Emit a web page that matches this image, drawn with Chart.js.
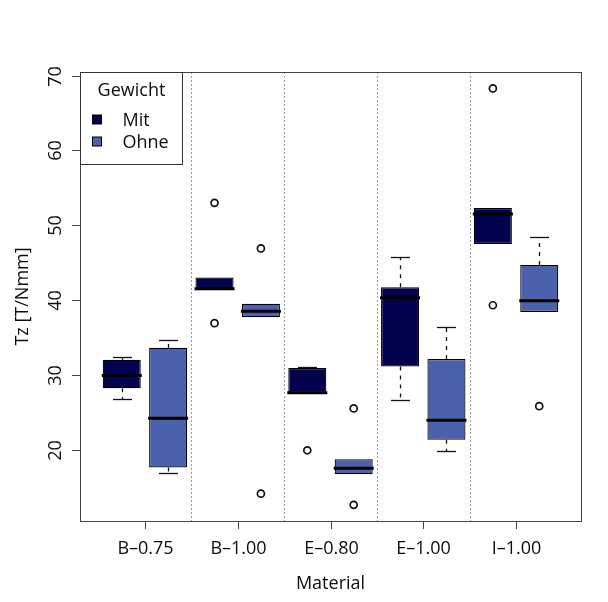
<!DOCTYPE html>
<html>
<head>
<meta charset="utf-8">
<script src="https://cdn.jsdelivr.net/npm/chart.js@4/dist/chart.umd.min.js"></script>
<style>
  html, body { margin: 0; padding: 0; background: #fff; }
  canvas { display: block; }
</style>
</head>
<body>
<canvas id="boxchart" width="608" height="602"></canvas>
<script>
// Tz by material, with / without weight (R style boxplot)

const materials = ['B–0.75', 'B–1.00', 'E–0.80', 'E–1.00', 'I–1.00']
const groups = ['Mit', 'Ohne']
const yTicks = [20, 30, 40, 50, 60, 70]

// Mit (with weight)
const mitLow  = [26.8, 41.3, 27.6, 26.6, 47.5]
const mitQ1   = [28.2, 41.3, 27.6, 31.1, 47.5]
const mitMed  = [29.9, 41.5, 27.6, 40.3, 51.5]
const mitQ3   = [32.0, 43.0, 30.9, 41.7, 52.3]
const mitHigh = [32.4, 43.0, 31.0, 45.8, 52.3]
const mitOut  = [[], [53.0, 36.9], [19.9], [], [68.3, 39.3]]

// Ohne (without weight)
const ohneLow  = [16.8, 37.7, 16.7, 19.8, 38.4]
const ohneQ1   = [17.6, 37.7, 16.7, 21.3, 38.4]
const ohneMed  = [24.2, 38.5, 17.5, 23.9, 39.9]
const ohneQ3   = [33.6, 39.5, 18.7, 32.1, 44.7]
const ohneHigh = [34.7, 39.5, 18.7, 36.4, 48.4]
const ohneOut  = [[], [46.9, 14.1], [25.5, 12.6], [], [25.8]]

const colors = ['#02024e', '#4a61ab']
const FONT = '"Open Sans", "DejaVu Sans", sans-serif'

// box position on the x axis: 1..10, Mit then Ohne inside each material
const pos = (i, s) => i * 2 + s + 1

const series = [
  { low: mitLow, q1: mitQ1, med: mitMed, q3: mitQ3, high: mitHigh, out: mitOut },
  { low: ohneLow, q1: ohneQ1, med: ohneMed, q3: ohneQ3, high: ohneHigh, out: ohneOut },
]

const boxDatasets = series.map((s, si) => ({
  type: 'bar',
  label: groups[si],
  data: materials.map((m, i) => ({ x: pos(i, si), y: [s.q1[i], s.q3[i]] })),
  backgroundColor: colors[si],
  borderColor: '#000',
  borderWidth: 1.2,
  borderSkipped: false,
  grouped: false,
  categoryPercentage: 1,
  barPercentage: 0.82,
  order: 2,
}))

const outlierData = []
series.forEach((s, si) => {
  s.out.forEach((vals, i) => {
    vals.forEach(v => outlierData.push({ x: pos(i, si), y: v }))
  })
})

const outlierDataset = {
  type: 'scatter',
  label: 'out',
  data: outlierData,
  pointRadius: 3.5,
  pointBorderWidth: 1.7,
  pointBackgroundColor: '#fff',
  pointBorderColor: '#111',
  order: 1,
}

const boxPlugin = {
  id: 'boxplot',
  beforeDatasetsDraw(chart) {
    const { ctx, chartArea: a, scales: { x, y } } = chart
    ctx.save()
    // dotted separators between materials
    ctx.strokeStyle = '#9a9a9a'
    ctx.lineWidth = 1
    ctx.setLineDash([2, 2])
    for (let i = 0; i < materials.length - 1; i++) {
      const px = Math.round(x.getPixelForValue(i * 2 + 2.5)) + 0.5
      ctx.beginPath()
      ctx.moveTo(px, a.top)
      ctx.lineTo(px, a.bottom)
      ctx.stroke()
    }
    // whiskers
    const half = (x.getPixelForValue(1.41) - x.getPixelForValue(1)) / 2 // half cap width
    ctx.lineWidth = 1.3
    series.forEach((s, si) => {
      materials.forEach((m, i) => {
        const px = Math.round(x.getPixelForValue(pos(i, si))) + 0.5
        const ends = [[s.q3[i], s.high[i]], [s.q1[i], s.low[i]]]
        ends.forEach(([from, to]) => {
          if (Math.abs(from - to) < 0.05) return
          const y0 = y.getPixelForValue(from)
          const y1 = Math.round(y.getPixelForValue(to)) + 0.5
          ctx.strokeStyle = '#111'
          ctx.setLineDash([4, 5])
          ctx.beginPath()
          ctx.moveTo(px, y0)
          ctx.lineTo(px, y1)
          ctx.stroke()
          ctx.setLineDash([])
          ctx.beginPath()
          ctx.moveTo(px - half, y1)
          ctx.lineTo(px + half, y1)
          ctx.stroke()
        })
      })
    })
    ctx.restore()
  },
  afterDatasetsDraw(chart) {
    const { ctx, chartArea: a, scales: { x, y } } = chart
    ctx.save()
    // medians
    const halfBox = (x.getPixelForValue(1.82) - x.getPixelForValue(1)) / 2
    ctx.strokeStyle = '#000'
    ctx.lineWidth = 3
    series.forEach((s, si) => {
      materials.forEach((m, i) => {
        const px = x.getPixelForValue(pos(i, si))
        const py = y.getPixelForValue(s.med[i])
        ctx.beginPath()
        ctx.moveTo(px - halfBox - 1, py)
        ctx.lineTo(px + halfBox + 1, py)
        ctx.stroke()
      })
    })

    // frame
    ctx.strokeStyle = '#444'
    ctx.lineWidth = 1
    ctx.strokeRect(Math.round(a.left) + 0.5, Math.round(a.top) + 0.5,
      Math.round(a.right - a.left), Math.round(a.bottom - a.top))

    ctx.fillStyle = '#0d0d0d'
    ctx.font = '18px ' + FONT

    // y ticks (labels rotated, like R)
    yTicks.forEach(t => {
      const py = Math.round(y.getPixelForValue(t)) + 0.5
      ctx.beginPath()
      ctx.moveTo(a.left, py)
      ctx.lineTo(a.left - 8, py)
      ctx.stroke()
      ctx.save()
      ctx.translate(a.left - 19, py)
      ctx.rotate(-Math.PI / 2)
      ctx.textAlign = 'center'
      ctx.textBaseline = 'alphabetic'
      ctx.fillText(String(t), 0, 0)
      ctx.restore()
    })

    // x ticks
    materials.forEach((m, i) => {
      const px = Math.round(x.getPixelForValue(i * 2 + 1.5)) + 0.5
      ctx.beginPath()
      ctx.moveTo(px, a.bottom)
      ctx.lineTo(px, a.bottom + 8)
      ctx.stroke()
      ctx.textAlign = 'center'
      ctx.textBaseline = 'alphabetic'
      ctx.fillText(m, px, a.bottom + 33)
    })

    // axis titles
    ctx.fillText('Material', (a.left + a.right) / 2, a.bottom + 68)
    ctx.save()
    ctx.translate(a.left - 52, (a.top + a.bottom) / 2)
    ctx.rotate(-Math.PI / 2)
    ctx.fillText('Tz [T/Nmm]', 0, 0)
    ctx.restore()

    // legend box, top left
    const lx = Math.round(a.left) + 0.5, ly = Math.round(a.top) + 0.5
    ctx.fillStyle = '#fff'
    ctx.fillRect(lx, ly, 102, 92)
    ctx.strokeStyle = '#333'
    ctx.strokeRect(lx, ly, 102, 92)
    ctx.fillStyle = '#0d0d0d'
    ctx.textAlign = 'center'
    ctx.fillText('Gewicht', lx + 51, ly + 23)
    groups.forEach((g, gi) => {
      const cy = ly + 47 + gi * 22
      ctx.fillStyle = colors[gi]
      ctx.fillRect(lx + 12, cy - 4.5, 9, 9)
      ctx.strokeStyle = '#000'
      ctx.strokeRect(lx + 12, cy - 4.5, 9, 9)
      ctx.fillStyle = '#0d0d0d'
      ctx.textAlign = 'left'
      ctx.fillText(g, lx + 42, cy + 6)
    })
    ctx.restore()
  },
}

const ctx = document.getElementById('boxchart').getContext('2d')
const chart = new Chart(ctx, {
  type: 'bar',
  data: { datasets: [...boxDatasets, outlierDataset] },
  options: {
    responsive: false,
    animation: false,
    devicePixelRatio: 1,
    layout: { padding: { left: 80, top: 72, right: 27, bottom: 81 } },
    scales: {
      x: { type: 'linear', min: 0.1, max: 10.9, offset: false, display: false },
      y: { type: 'linear', min: 10.44, max: 70.5, display: false },
    },
    plugins: {
      legend: { display: false },
      tooltip: { enabled: false },
    },
  },
  plugins: [boxPlugin],
})
</script>
</body>
</html>
